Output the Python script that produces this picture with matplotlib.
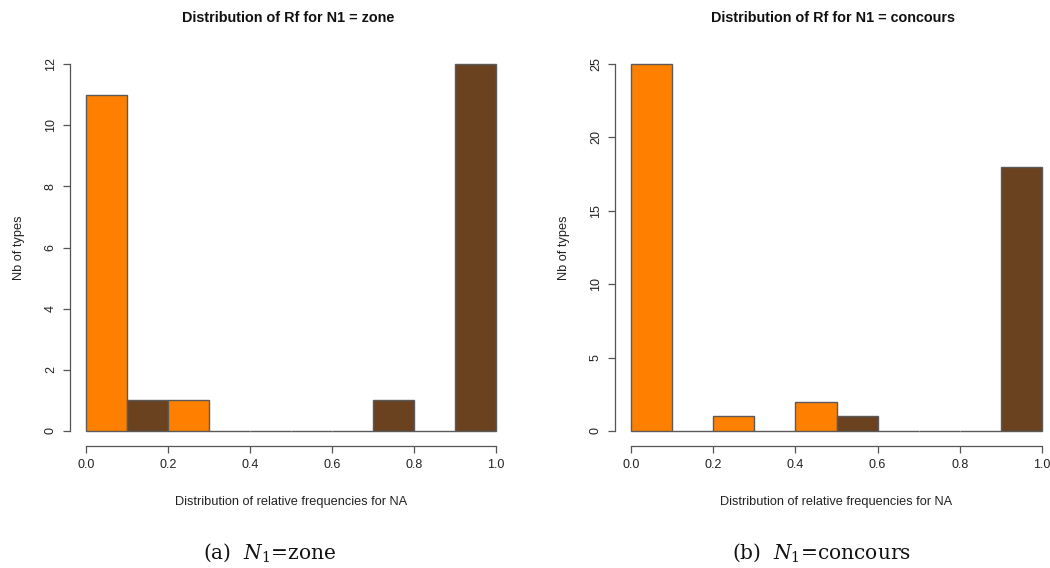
import numpy as np
import matplotlib
matplotlib.use('Agg')
import matplotlib.pyplot as plt

# bins of relative frequency (0.0 - 1.0, width 0.1)
bin_edges = [0.0, 0.1, 0.2, 0.3, 0.4, 0.5, 0.6, 0.7, 0.8, 0.9, 1.0]
counts_zone = [11, 1, 1, 0, 0, 0, 0, 1, 0, 12]
counts_concours = [25, 0, 1, 0, 2, 1, 0, 0, 0, 18]
bar_colors = ['#ff8000', '#6b4220']  # alternating per bin

titles = ['Distribution of Rf for N1 = zone', 'Distribution of Rf for N1 = concours']
captions = ['(a)  $N_1$=zone', '(b)  $N_1$=concours']
yticks = [[0, 2, 4, 6, 8, 10, 12], [0, 5, 10, 15, 20, 25]]
xticks = [0.0, 0.2, 0.4, 0.6, 0.8, 1.0]

plt.rcParams['font.family'] = ['Liberation Sans', 'DejaVu Sans']
plt.rcParams['mathtext.fontset'] = 'dejavuserif'

W, H = 1050, 568
fig = plt.figure(figsize=(W / 100, H / 100), dpi=100)

axis_col = '#555555'
text_col = '#222222'


def make_axes(x0, x1, y0, y1):
    return fig.add_axes([x0 / W, 1 - y0 / H, (x1 - x0) / W, (y0 - y1) / H])


panels = [
    (make_axes(86, 496, 431, 64), counts_zone, 288, 270),
    (make_axes(631, 1042, 431, 64), counts_concours, 833, 821),
]

for i, (ax, counts, title_x, cap_x) in enumerate(panels):
    left = np.array(bin_edges[:-1])
    widths = np.diff(bin_edges)
    cols = [bar_colors[k % 2] for k in range(len(counts))]
    ax.bar(left, counts, width=widths, align='edge', color=cols,
           edgecolor='#5a5a5a', linewidth=1.0, clip_on=False)
    ax.set_xlim(0, 1)
    ax.set_ylim(0, yticks[i][-1])

    for s in ['top', 'right']:
        ax.spines[s].set_visible(False)
    ax.spines['left'].set_position(('outward', 11.5))
    ax.spines['bottom'].set_position(('outward', 10.8))
    ax.spines['left'].set_bounds(yticks[i][0], yticks[i][-1])
    ax.spines['bottom'].set_bounds(0, 1)
    for s in ['left', 'bottom']:
        ax.spines[s].set_color(axis_col)
        ax.spines[s].set_linewidth(0.9)

    ax.set_xticks(xticks)
    ax.set_xticklabels(['%.1f' % v for v in xticks])
    ax.set_yticks(yticks[i])
    ax.tick_params(axis='both', colors=axis_col, labelcolor=text_col,
                   labelsize=9, length=5, width=0.9, pad=4.5)
    for lab in ax.get_yticklabels():
        lab.set_rotation(90)
        lab.set_va('center')

    ax.set_xlabel('Distribution of relative frequencies for NA', fontsize=9.2,
                  color=text_col, labelpad=18)
    ax.set_ylabel('Nb of types', fontsize=9.2, color=text_col, labelpad=14)

    fig.text(title_x / W, 1 - 18 / H, titles[i], ha='center', va='center',
             fontsize=10.4, fontweight='bold', color='#111111')
    fig.text(cap_x / W, 1 - 553 / H, captions[i], ha='center', va='center',
             fontsize=14.5, family=['DejaVu Serif'], color='#111111')

fig.savefig('out.png', dpi=100, facecolor='white')
